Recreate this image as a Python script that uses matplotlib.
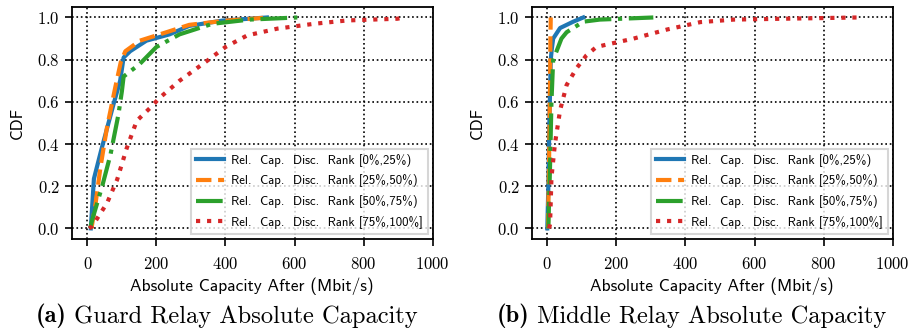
import matplotlib
matplotlib.use("Agg")
import matplotlib.pyplot as plt

plt.rcParams["axes.formatter.use_mathtext"] = True

LABELS = ["Rel.  Cap.  Disc.  Rank [0%,25%)", "Rel.  Cap.  Disc.  Rank [25%,50%)",
          "Rel.  Cap.  Disc.  Rank [50%,75%)", "Rel.  Cap.  Disc.  Rank [75%,100%]"]
STYLES = ["-", "--", "-.", ":"]
COLORS = ["C0", "C1", "C2", "C3"]

# guard relays: absolute capacity after (Mbit/s) vs CDF
guard_q1_x = [10, 19, 40, 76, 95, 105, 124, 171, 238, 295, 390, 520]
guard_q1_y = [0.0, 0.235, 0.37, 0.59, 0.70, 0.81, 0.84, 0.89, 0.92, 0.96, 0.985, 1.0]
guard_q2_x = [12, 24, 38, 57, 81, 97, 110, 152, 229, 295, 400, 525]
guard_q2_y = [0.0, 0.12, 0.29, 0.48, 0.67, 0.79, 0.84, 0.89, 0.93, 0.965, 0.985, 1.0]
guard_q3_x = [8, 14, 43, 67, 90, 100, 105, 152, 200, 267, 362, 470, 608]
guard_q3_y = [0.0, 0.04, 0.20, 0.35, 0.54, 0.65, 0.72, 0.78, 0.86, 0.92, 0.97, 0.99, 1.0]
guard_q4_x = [5, 14, 57, 86, 114, 143, 181, 210, 267, 343, 400, 463, 550, 656, 753, 898, 915]
guard_q4_y = [0.0, 0.01, 0.12, 0.23, 0.38, 0.51, 0.57, 0.62, 0.70, 0.79, 0.86, 0.915, 0.947, 0.97, 0.986, 0.994, 1.0]

# middle relays
middle_q1_x = [0, 3, 6, 10, 13, 17, 37, 75, 104]
middle_q1_y = [0.0, 0.2, 0.5, 0.8, 0.85, 0.90, 0.95, 0.98, 1.0]
middle_q2_x = [2, 5, 8, 9, 10]
middle_q2_y = [0.0, 0.3, 0.7, 0.9, 1.0]
middle_q3_x = [3, 8, 12, 17, 22, 41, 56, 104, 152, 307]
middle_q3_y = [0.0, 0.3, 0.6, 0.80, 0.82, 0.90, 0.93, 0.98, 0.99, 1.0]
middle_q4_x = [5, 8, 12, 22, 37, 56, 85, 113, 142, 168, 250, 347, 443, 540, 898]
middle_q4_y = [0.0, 0.02, 0.24, 0.40, 0.56, 0.68, 0.76, 0.82, 0.86, 0.87, 0.90, 0.943, 0.978, 0.99, 1.0]

XTICKS = [0, 200, 400, 600, 800, 1000]
YTICKS = [0.0, 0.2, 0.4, 0.6, 0.8, 1.0]


def draw(ax, series, tag, caption, cx):
    for (xs, ys), ls, c, lab in zip(series, STYLES, COLORS, LABELS):
        ax.plot(xs, ys, ls=ls, color=c, lw=3, label=lab)
    ax.set_xlim(-45, 1000)
    ax.set_ylim(-0.05, 1.05)
    ax.set_xticks(XTICKS)
    ax.set_yticks(YTICKS)
    ax.tick_params(length=5, width=1.2)
    ax.tick_params(axis="x", pad=7)
    for t in ax.get_xticklabels() + ax.get_yticklabels():
        t.set_fontfamily("cmr10")
        t.set_fontsize(12)
    ax.set_xlabel("Absolute Capacity After (Mbit/s)", family="cmss10", fontsize=12.5, labelpad=4)
    ax.set_ylabel("CDF", family="cmss10", fontsize=12, labelpad=9)
    ax.grid(True, color="black", linestyle=":", linewidth=1.2)
    for s in ax.spines.values():
        s.set_linewidth(1.3)
    leg = ax.legend(loc="lower right", prop={"family": "cmss10", "size": 9.2},
                    handlelength=2.2, handletextpad=0.5, labelspacing=0.6,
                    fancybox=False, borderaxespad=0.4)
    leg.get_frame().set_linewidth(1.5)
    t1 = ax.figure.text(cx, 0.025, tag, family="cmb10", fontsize=17.6, ha="left", va="baseline")
    ax.annotate(caption, xy=(1, 0), xycoords=t1, va="bottom", ha="left",
                family="cmr10", fontsize=17.6)


fig = plt.figure(figsize=(9.09, 3.3), dpi=100)
axL = fig.add_axes([0.079, 0.276, 0.397, 0.703])
axR = fig.add_axes([0.585, 0.276, 0.397, 0.703])

draw(axL, [(guard_q1_x, guard_q1_y), (guard_q2_x, guard_q2_y),
           (guard_q3_x, guard_q3_y), (guard_q4_x, guard_q4_y)],
     "(a)", " Guard Relay Absolute Capacity", 0.039)
draw(axR, [(middle_q1_x, middle_q1_y), (middle_q2_x, middle_q2_y),
           (middle_q3_x, middle_q3_y), (middle_q4_x, middle_q4_y)],
     "(b)", " Middle Relay Absolute Capacity", 0.546)

fig.savefig("out.png", dpi=100)
